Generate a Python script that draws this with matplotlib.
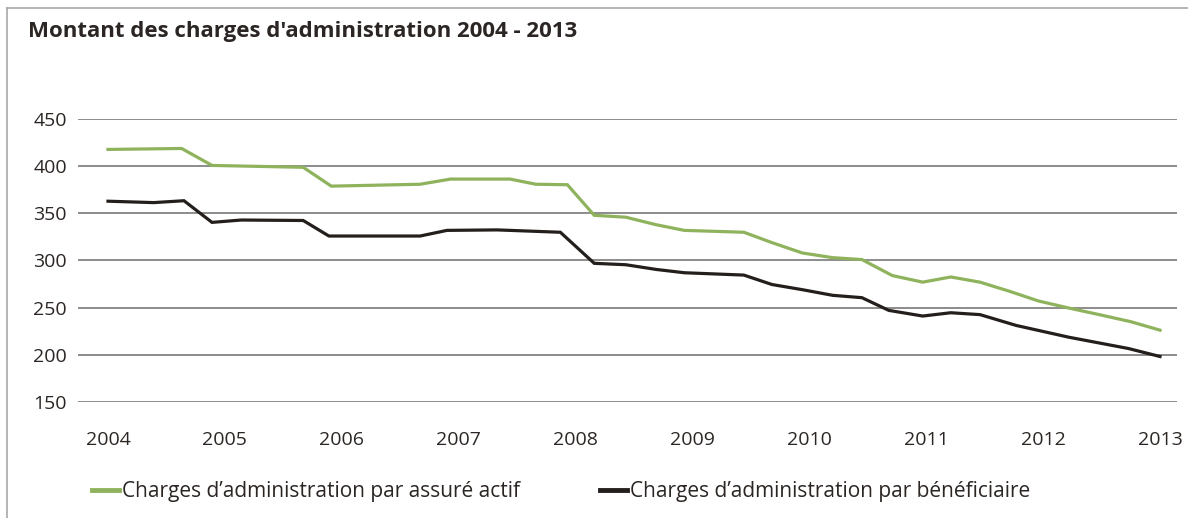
import matplotlib
matplotlib.use("Agg")
import matplotlib.pyplot as plt
from matplotlib.lines import Line2D

plt.rcParams['font.family'] = ['Open Sans', 'DejaVu Sans']

# données (années décimales)
annees_actif = [2004.00, 2004.63, 2004.89, 2005.67, 2005.91, 2006.67, 2006.93, 2007.44,
                2007.66, 2007.93, 2008.16, 2008.43, 2008.69, 2008.93, 2009.44, 2009.68,
                2009.94, 2010.20, 2010.45, 2010.71, 2010.97, 2011.21, 2011.46, 2011.72,
                2011.96, 2012.22, 2012.48, 2012.75, 2013.00]
charges_actif = [418, 419, 401, 399, 379, 381, 386.5, 386.5,
                 381, 380.5, 348, 346, 338, 332, 330, 319,
                 308, 303, 301, 284, 277, 282.5, 277, 267,
                 257, 249.5, 242.5, 235, 226]

annees_benef = [2004.00, 2004.39, 2004.65, 2004.89, 2005.14, 2005.67, 2005.89, 2006.67,
                2006.90, 2007.33, 2007.87, 2008.16, 2008.43, 2008.69, 2008.93, 2009.44,
                2009.68, 2009.94, 2010.20, 2010.45, 2010.68, 2010.97, 2011.21, 2011.46,
                2011.77, 2012.22, 2012.73, 2013.00]
charges_benef = [363, 361.5, 363.5, 340.5, 343, 342.5, 326, 326,
                 332, 332.5, 330, 297, 295.5, 290.5, 287, 284.5,
                 274.5, 269, 263, 260.5, 247, 241, 244.5, 242.5,
                 231, 218.5, 206.5, 198]

annees_ticks = list(range(2004, 2014))
y_ticks = [150, 200, 250, 300, 350, 400, 450]

vert = '#8fb35d'
noir = '#241f1c'
texte = '#2b2623'

W, H = 1188, 518
fig = plt.figure(figsize=(W / 100, H / 100), dpi=100)
ax = fig.add_axes([78 / W, 1 - 401.7 / H, (1177 - 78) / W, (401.7 - 119.3) / H])

l1, = ax.plot(annees_actif, charges_actif, color=vert, lw=2.3, solid_joinstyle='miter')
l2, = ax.plot(annees_benef, charges_benef, color=noir, lw=2.3, solid_joinstyle='miter')

ax.set_ylim(150, 450)
ax.set_xlim(2004 - 30 / 116.9, 2013 + 17 / 116.9)
ax.set_yticks(y_ticks)
ax.set_xticks(annees_ticks)
ax.set_xticklabels([str(a) for a in annees_ticks])
ax.grid(axis='y', color='#8c8c8c', lw=1.4)
ax.set_axisbelow(True)
for s in ax.spines.values():
    s.set_visible(False)
ax.tick_params(axis='both', length=0, labelsize=14, labelcolor=texte)
ax.tick_params(axis='y', pad=8)
ax.tick_params(axis='x', pad=21)

# titre
fig.text(28 / W, 1 - 32 / H, "Montant des charges d'administration 2004 - 2013",
         fontsize=16, fontweight='bold', color=texte, ha='left', va='center')

# cadre (haut et gauche)
fig.add_artist(Line2D([7 / W, 1], [1 - 8 / H, 1 - 8 / H], transform=fig.transFigure,
                      color='#a8a8a8', lw=1.2))
fig.add_artist(Line2D([7 / W, 7 / W], [0, 1 - 8 / H], transform=fig.transFigure,
                      color='#a8a8a8', lw=1.2))

# légendes
kw = dict(loc='center left', frameon=False, fontsize=15, handlelength=1.3,
          handletextpad=0.15, borderpad=0, borderaxespad=0, labelcolor=texte)
leg1 = fig.legend([l1], ["Charges d\u2019administration par assuré actif"],
                  bbox_to_anchor=(92 / W, 1 - 492 / H), **kw)
leg2 = fig.legend([l2], ["Charges d\u2019administration par bénéficiaire"],
                  bbox_to_anchor=(600 / W, 1 - 492 / H), **kw)
for lg in (leg1, leg2):
    for h in lg.legend_handles:
        h.set_linewidth(3.5)

fig.savefig("out.png", dpi=100)
